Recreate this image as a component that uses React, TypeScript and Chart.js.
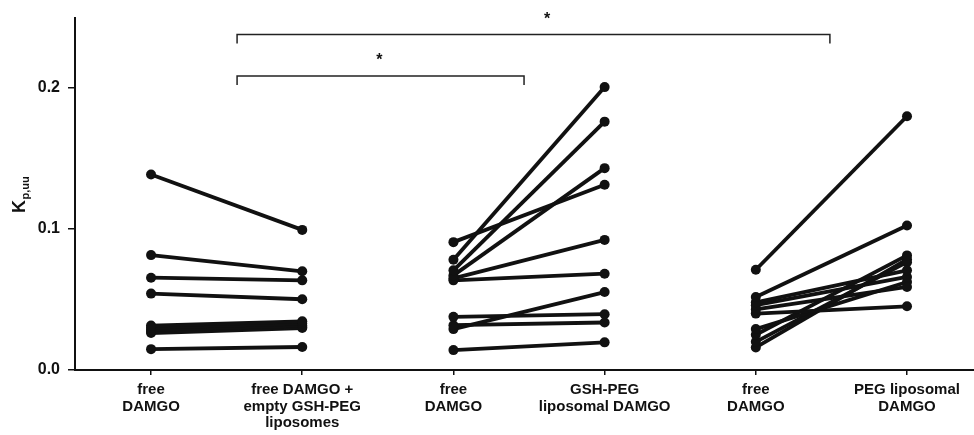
import React, { useEffect, useRef } from 'react';
import { Chart, registerables } from 'chart.js';

Chart.register(...registerables);

// Category labels (x axis), multi-line
const categoryLabels: string[][] = [
  ['free', 'DAMGO'],
  ['free DAMGO +', 'empty GSH-PEG', 'liposomes'],
  ['free', 'DAMGO'],
  ['GSH-PEG', 'liposomal DAMGO'],
  ['free', 'DAMGO'],
  ['PEG liposomal', 'DAMGO'],
];

const yTickValues = [0, 0.1, 0.2];

// Group 1: free DAMGO -> free DAMGO + empty GSH-PEG liposomes
const emptyBefore = [0.1387, 0.0815, 0.0655, 0.0542, 0.0315, 0.03, 0.0285, 0.0272, 0.0262, 0.0148];
const emptyAfter = [0.0994, 0.07, 0.0636, 0.0502, 0.0345, 0.033, 0.0315, 0.0305, 0.0298, 0.0163];

// Group 2: free DAMGO -> GSH-PEG liposomal DAMGO
const gshBefore = [0.0907, 0.0782, 0.0707, 0.0671, 0.065, 0.0636, 0.0377, 0.0318, 0.029, 0.0141];
const gshAfter = [0.1314, 0.2007, 0.1762, 0.1432, 0.0923, 0.0683, 0.0396, 0.0337, 0.0553, 0.0196];

// Group 3: free DAMGO -> PEG liposomal DAMGO
const pegBefore = [0.0711, 0.0518, 0.048, 0.046, 0.043, 0.04, 0.029, 0.025, 0.02, 0.016];
const pegAfter = [0.18, 0.1025, 0.0707, 0.066, 0.0589, 0.0452, 0.0624, 0.0813, 0.0765, 0.0785];

// Significance brackets
const bracketFrom = [0.569, 0.569];
const bracketTo = [2.467, 4.49];
const bracketLevel = [0.2085, 0.238];
const bracketStarX = [1.51, 2.62];
const bracketLabels = ['*', '*'];

const FONT = '"Liberation Sans", Arial, Helvetica, sans-serif';
const INK = '#111111';

export default function App() {
  const ref = useRef<HTMLCanvasElement>(null);

  useEffect(() => {
    if (!ref.current) return;
    const groups: [number[], number[], number][] = [
      [emptyBefore, emptyAfter, 0],
      [gshBefore, gshAfter, 2],
      [pegBefore, pegAfter, 4],
    ];
    const datasets: any[] = [];
    groups.forEach(([b, a, x0]) => {
      b.forEach((v, i) => {
        datasets.push({
          data: [
            { x: x0, y: v },
            { x: x0 + 1, y: a[i] },
          ],
          borderColor: INK,
          backgroundColor: INK,
          borderWidth: 3.8,
          pointRadius: 5,
          pointBackgroundColor: INK,
          pointBorderWidth: 0,
          tension: 0,
        });
      });
    });

    const annot = {
      id: 'annot',
      afterDatasetsDraw(chart: any) {
        const { ctx, scales, chartArea } = chart;
        const xs = scales.x;
        const ys = scales.y;
        ctx.save();
        // extend x axis line to the canvas edge
        ctx.fillStyle = INK;
        const yTop = Math.round(xs.top) - 1;
        ctx.fillRect(chartArea.right - 4, yTop, chart.width - chartArea.right + 4, 2);
        for (let i = 0; i < bracketFrom.length; i++) {
          const x1 = xs.getPixelForValue(bracketFrom[i]);
          const x2 = xs.getPixelForValue(bracketTo[i]);
          const yy = ys.getPixelForValue(bracketLevel[i]);
          ctx.strokeStyle = '#222';
          ctx.lineWidth = 1.5;
          ctx.beginPath();
          ctx.moveTo(x1, yy + 9);
          ctx.lineTo(x1, yy);
          ctx.lineTo(x2, yy);
          ctx.lineTo(x2, yy + 9);
          ctx.stroke();
          ctx.fillStyle = INK;
          ctx.font = `bold 16px ${FONT}`;
          ctx.textAlign = 'center';
          ctx.textBaseline = 'alphabetic';
          ctx.fillText(bracketLabels[i], xs.getPixelForValue(bracketStarX[i]), yy - 11);
        }
        // y axis title K_p,uu
        ctx.translate(25, 213);
        ctx.rotate(-Math.PI / 2);
        ctx.textAlign = 'left';
        ctx.textBaseline = 'alphabetic';
        ctx.fillStyle = INK;
        ctx.font = `bold 18px ${FONT}`;
        ctx.fillText('K', 0, 0);
        const kw = ctx.measureText('K').width;
        ctx.font = `bold 11px ${FONT}`;
        ctx.fillText('p,uu', kw + 0.5, 4);
        ctx.restore();
      },
    };

    const chart = new Chart(ref.current, {
      type: 'line',
      data: { datasets },
      options: {
        animation: false,
        responsive: false,
        maintainAspectRatio: false,
        layout: { padding: { top: 16, right: 0, left: 0, bottom: 0 } },
        plugins: {
          legend: { display: false },
          tooltip: { enabled: false },
        },
        scales: {
          x: {
            type: 'linear',
            min: -0.503,
            max: 5.41,
            afterBuildTicks: (s: any) => {
              s.ticks = categoryLabels.map((_, i) => ({ value: i }));
            },
            afterFit: (s: any) => {
              s.height = 65;
            },
            ticks: {
              autoSkip: false,
              maxRotation: 0,
              minRotation: 0,
              padding: 7,
              color: INK,
              font: { family: FONT, size: 15, weight: 'bold', lineHeight: 1.1 },
              callback: (v: any) => categoryLabels[Math.round(Number(v))] || '',
            },
            grid: {
              drawOnChartArea: false,
              drawTicks: true,
              tickLength: 5,
              color: INK,
              lineWidth: 1.5,
            },
            border: { color: INK, width: 2 },
          },
          y: {
            type: 'linear',
            min: 0,
            max: 0.25,
            afterBuildTicks: (s: any) => {
              s.ticks = yTickValues.map((v) => ({ value: v }));
            },
            afterFit: (s: any) => {
              s.width = 75;
            },
            ticks: {
              padding: 8,
              color: INK,
              font: { family: FONT, size: 16, weight: 'bold' },
              callback: (v: any) => Number(v).toFixed(1),
            },
            grid: {
              drawOnChartArea: false,
              drawTicks: true,
              tickLength: 7,
              color: INK,
              lineWidth: 1.5,
            },
            border: { color: INK, width: 2 },
          },
        },
      },
      plugins: [annot],
    });
    return () => chart.destroy();
  }, []);

  return (
    <div style={{ position: 'absolute', left: 0, top: 0, width: 974, height: 435, background: '#fff' }}>
      <canvas ref={ref} width={974} height={435} style={{ display: 'block', width: 974, height: 435 }} />
    </div>
  );
}
